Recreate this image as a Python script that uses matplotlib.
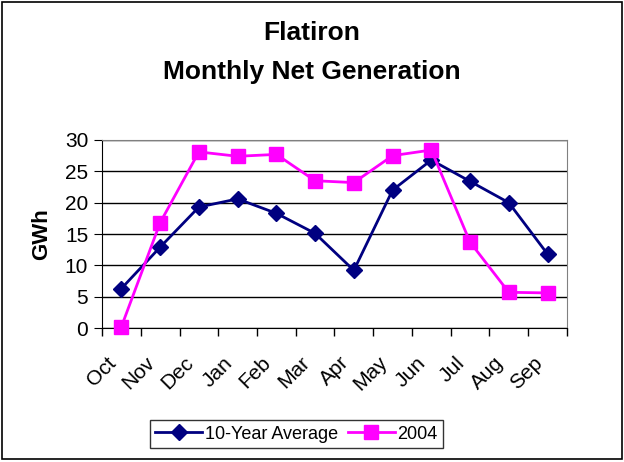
import numpy as np
import matplotlib.pyplot as plt
from matplotlib.patches import Rectangle
from matplotlib.transforms import ScaledTranslation

plt.rcParams['font.family'] = ['Liberation Sans', 'DejaVu Sans']

months = ['Oct', 'Nov', 'Dec', 'Jan', 'Feb', 'Mar', 'Apr', 'May', 'Jun', 'Jul', 'Aug', 'Sep']
avg_10yr = [6.3, 12.9, 19.3, 20.6, 18.3, 15.1, 9.2, 22.0, 26.8, 23.4, 20.0, 11.8]
gen_2004 = [0.2, 16.8, 28.1, 27.4, 27.7, 23.5, 23.2, 27.5, 28.4, 13.7, 5.7, 5.6]

fig = plt.figure(figsize=(6.24, 4.62), dpi=100)
fig.patches.append(Rectangle((0.003, 0.006), 0.994, 0.99, transform=fig.transFigure,
                             fill=False, edgecolor='black', lw=1.2))

ax = fig.add_axes([0.1635, 0.29, 0.745, 0.407])
x = np.arange(len(months))

ax.plot(x, avg_10yr, color='#000080', lw=2, marker='D', markersize=8,
        label='10-Year Average', clip_on=False, zorder=3)
ax.plot(x, gen_2004, color='#FF00FF', lw=2, marker='s', markersize=10.5,
        label='2004', clip_on=False, zorder=4)

ax.set_xlim(-0.5, len(months) - 0.5)
ax.set_ylim(0, 30)
ax.set_yticks(range(0, 31, 5))
ax.yaxis.grid(True, color='black', lw=1)
ax.set_axisbelow(True)

# category ticks sit between months, labels at the points
ax.set_xticks(np.arange(-0.5, len(months)), minor=False)
ax.set_xticklabels([])
ax.set_xticks(x, minor=True)
ax.set_xticklabels(months, minor=True, rotation=45, ha='right',
                   rotation_mode='anchor', fontsize=15)
ax.tick_params(axis='x', which='minor', length=0, pad=18)
ax.tick_params(axis='x', which='major', length=6, direction='out', width=1)
ax.tick_params(axis='y', length=6, direction='out', labelsize=15, pad=4)

shift = ScaledTranslation(-15 / 100, 0, fig.dpi_scale_trans)
for lab in ax.get_xticklabels(minor=True):
    lab.set_transform(lab.get_transform() + shift)

for side in ['top', 'right']:
    ax.spines[side].set_color('#808080')
for side in ['left', 'bottom']:
    ax.spines[side].set_color('black')

ax.set_ylabel('GWh', fontsize=16, fontweight='bold', labelpad=9)

fig.text(0.5, 0.928, 'Flatiron', ha='center', va='center', fontsize=19, fontweight='bold')
fig.text(0.5, 0.844, 'Monthly Net Generation', ha='center', va='center',
         fontsize=19, fontweight='bold')

leg = fig.legend(loc='center', bbox_to_anchor=(0.475, 0.0606), ncol=2, fontsize=13,
                 frameon=True, fancybox=False, edgecolor='black', handlelength=2.6,
                 columnspacing=0.55, handletextpad=0.15, borderpad=0.3,
                 borderaxespad=0)
leg.get_frame().set_linewidth(1)

fig.savefig('out.png', dpi=100)
